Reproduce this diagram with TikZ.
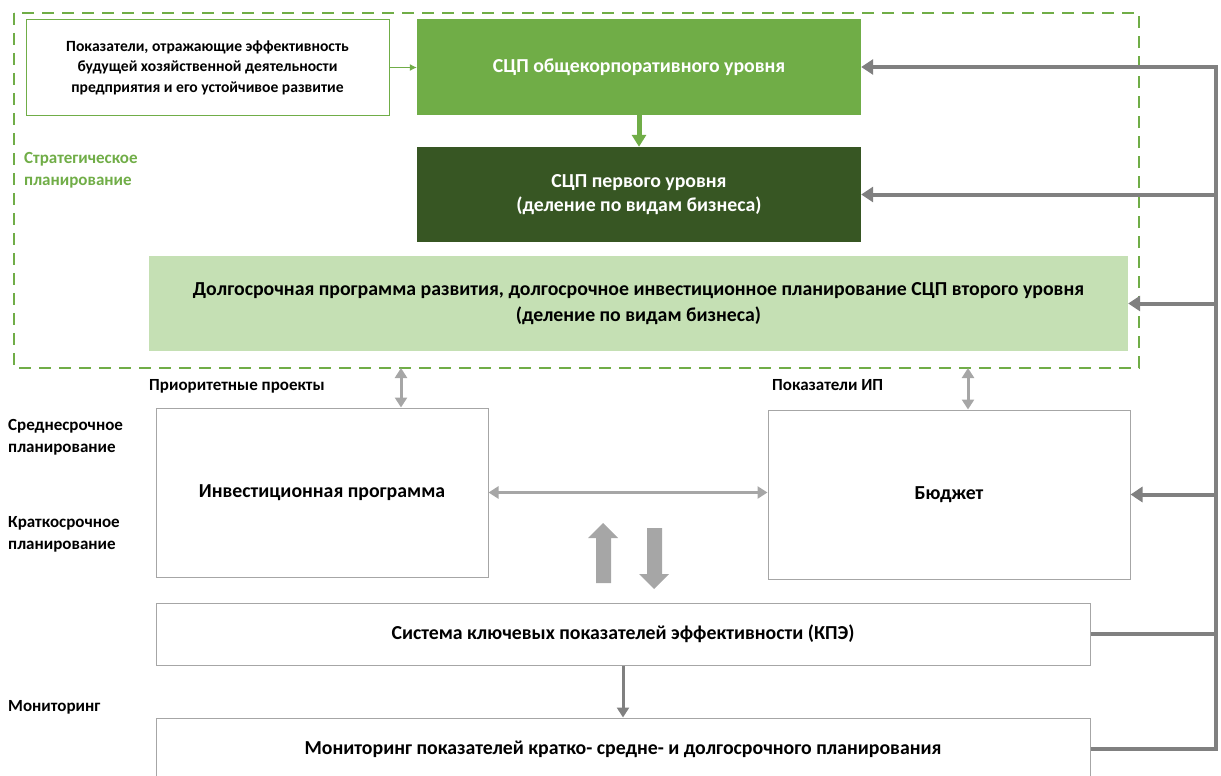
\documentclass[tikz,border=0pt]{standalone}
\usepackage{fontspec}
\setmainfont{Carlito}
\usepackage{tikz}
\usetikzlibrary{arrows.meta,calc}
\definecolor{grnmid}{HTML}{70AD47}
\definecolor{grndark}{HTML}{375623}
\definecolor{grnlight}{HTML}{C5E0B4}
\definecolor{fbgray}{HTML}{808080}
\definecolor{ltgray}{HTML}{A6A6A6}

\begin{document}
\begin{tikzpicture}[x=1pt,y=-1pt,
  box/.style={draw=ltgray,line width=1pt,fill=white,align=center,inner sep=0pt,
    minimum width=#1,font=\bfseries\fontsize{19.8}{24}\selectfont},
  box/.default=100pt,
  greenbox/.style={fill=grnmid,text=white,align=center,inner sep=0pt,
    minimum width=444pt,minimum height=96pt,font=\bfseries\fontsize{19.8}{24}\selectfont},
  sidelabel/.style={anchor=north west,align=left,inner sep=0pt,
    font=\bfseries\fontsize{17}{22}\selectfont},
  fbline/.style={draw=fbgray,line width=4pt},
  fbarrow/.style={fbline,-{Triangle[length=12pt,width=15pt]}},
  dblarrow/.style={draw=ltgray,line width=3pt,{Triangle[length=10pt,width=12pt]}-{Triangle[length=10pt,width=12pt]}},
  blockarrow/.style={fill=ltgray}
  ]
\useasboundingbox (0,0) rectangle (1221,776);
\def\spineX{1216}
% strategic planning frame
\draw[grnmid,line width=2.5pt,dash pattern=on 12pt off 8pt] (14,13) rectangle (1139,368);
\node[sidelabel,text=grnmid] (strat) at (24,152) {Стратегическое\\планирование};
% top level
\node[box=363pt,draw=grnmid,minimum height=95pt,
  font=\bfseries\fontsize{15.6}{20.5}\selectfont] (ind) at (207.5,67.5)
  {Показатели, отражающие эффективность\\будущей хозяйственной деятельности\\предприятия и его устойчивое развитие};
\node[greenbox] (corp) at (639,67) {СЦП общекорпоративного уровня};
\node[greenbox,fill=grndark,minimum height=95pt] (first) at (639,194.5)
  {СЦП первого уровня\\(деление по видам бизнеса)};
\node[greenbox,fill=grnlight,text=black,minimum width=979pt,minimum height=95pt,
  font=\bfseries\fontsize{19.8}{26}\selectfont] (longterm) at (638.5,303.5)
  {Долгосрочная программа развития, долгосрочное инвестиционное планирование СЦП второго уровня\\(деление по видам бизнеса)};
\draw[grnmid,line width=1pt,-{Latex[length=7pt,width=7pt]}] (ind.east) -- (ind.east -| corp.west);
\draw[grnmid,line width=5pt,-{Triangle[length=12pt,width=14pt]}] (corp.south) -- (first.north);
% medium and short term
\node[sidelabel] (prior) at (149,379.5) {Приоритетные проекты};
\node[sidelabel] (ipind) at (772,379.5) {Показатели ИП};
\node[sidelabel] (mid) at (8,419.5) {Среднесрочное\\планирование};
\node[sidelabel] (short) at (8,516.5) {Краткосрочное\\планирование};
\node[sidelabel] (mon) at (8,700.5) {Мониторинг};
\node[box=332pt,minimum height=169pt] (invest) at (322,492.5) {Инвестиционная программа};
\node[box=362pt,minimum height=169pt] (budget) at (949,494.5) {Бюджет};
\node[box=934pt,minimum height=62pt] (kpe) at (623,634)
  {Система ключевых показателей эффективности (КПЭ)};
\node[box=934pt,minimum height=62pt] (monit) at (623,749)
  {Мониторинг показателей кратко- средне- и долгосрочного планирования};
\coordinate (pp) at (401,368);
\coordinate (ip) at (968,368);
\draw[dblarrow] (pp) -- (pp |- invest.north);
\draw[dblarrow] (ip) -- (ip |- budget.north);
\draw[dblarrow] (invest.east) -- (invest.east -| budget.west);
% block arrows between programme and kpe
\fill[blockarrow] (596,583) -- (596,538) -- (588,538) -- (603,523) -- (618,538) -- (611,538) -- (611,583) -- cycle;
\fill[blockarrow] (647,528) -- (647,574) -- (639,574) -- (654,589) -- (669,574) -- (662,574) -- (662,528) -- cycle;
\draw[draw=fbgray,line width=3pt,-{Triangle[length=10pt,width=12pt]}] (kpe.south) -- (monit.north);
% feedback lines on the right
\coordinate (spine) at (\spineX,67);
\draw[fbarrow,line join=miter] (monit.east) -| (spine) -- (corp.east);
\draw[fbline] (kpe.east) -- (kpe.east -| spine);
\draw[fbarrow] (spine |- first.east) -- (first.east);
\draw[fbarrow] (spine |- longterm.east) -- (longterm.east);
\draw[fbarrow] (spine |- budget.east) -- (budget.east);
\end{tikzpicture}
\end{document}
